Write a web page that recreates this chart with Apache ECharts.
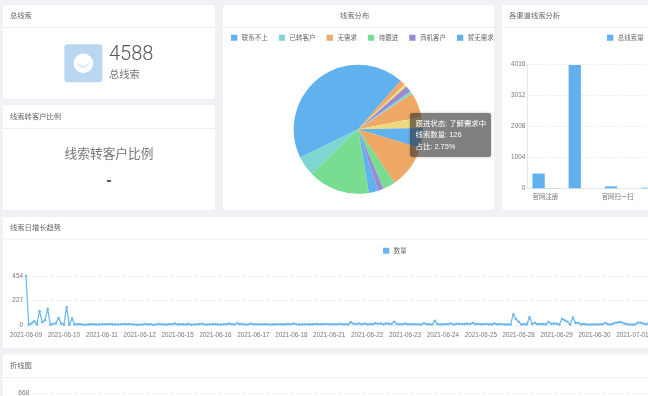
<!DOCTYPE html>
<html>
<head>
<meta charset="utf-8">
<style>
html,body{margin:0;padding:0;background:#f0f0f5;overflow:hidden}
#c{width:648px;height:396px;filter:blur(0.35px)}
</style>
<script src="https://cdn.jsdelivr.net/npm/echarts@6/dist/echarts.min.js"></script>
</head>
<body>
<div id="c"></div>
<script>
var FONT = '"Liberation Sans","Noto Sans CJK SC",sans-serif';

var pieNames = ['联系不上','其他一','其他二','其他三','其他四','其他五','了解需求中','其他六','无需求','其他七','商机客户','暂无需求','待跟进','已转客户'];
var pieValues = [2002,61,30,71,32,287,126,229,497,143,64,108,711,227];
var pieColors = ['#60b1ee','#f0a866','#eed97e','#9a88d3','#7dd6d0','#f0a866','#eed97e','#60b1ee','#f0a866','#78dc91','#9a88d3','#60b1ee','#78dc91','#7dd6d0'];
var pieLegend = ['联系不上','已转客户','无需求','待跟进','商机客户','暂无需求'];

var barCategories = ['官网注册','线下导入','官网扫一扫','其他渠道'];
var barTotal = [475,3990,60,20];
var barConverted = [10,0,0,0];
var barTicks = {max:4016, interval:1004};

var days = ['2021-06-09','2021-06-10','2021-06-11','2021-06-12','2021-06-15','2021-06-16','2021-06-17','2021-06-18','2021-06-21','2021-06-22','2021-06-23','2021-06-24','2021-06-25','2021-06-28','2021-06-29','2021-06-30','2021-07-01','2021-07-02'];
var hours = ['08','09','10','11','12','13','14','15','16','17','18','19','20','21'];
var dailyCounts = [
 454,2,15,35,5,130,25,45,150,3,12,14,65,15,
 3,165,2,60,5,8,9,3,2,5,8,6,4,5,
 7,8,8,9,6,5,5,6,9,8,9,7,4,3,
 3,5,9,5,8,2,4,10,6,5,4,8,7,14,
 5,7,6,5,10,3,5,8,7,12,5,4,7,6,
 9,5,4,8,6,13,7,5,16,6,9,5,4,12,
 8,6,5,7,8,8,4,5,6,7,6,5,8,9,
 7,14,6,4,5,6,7,5,8,9,8,7,10,9,
 6,8,7,6,9,7,6,5,25,11,9,14,6,15,
 8,10,7,17,12,13,8,15,11,9,30,9,7,6,
 14,8,6,8,7,6,5,16,6,8,4,40,9,5,
 7,8,9,14,5,11,12,9,10,13,9,18,9,10,
 8,9,9,8,5,13,8,9,7,4,5,5,100,55,
 30,5,8,5,72,10,20,8,10,10,5,28,12,14,
 12,5,55,45,30,5,70,18,22,5,10,5,4,5,
 5,5,6,8,18,8,5,15,20,26,26,15,8,4,
 4,5,22,22,14,8,16,12,14,9,10,8,6,7
];
var dailyTicks = {max:454, interval:227};
var bottomTicks = {max:668, interval:167};

var cards = [[3,5,212,94,27.5],[3,105,212,105,128.5],[223,5,271,205,27.5],[502,5,160,205,27.5],[3,217,660,131,239],[3,354.5,660,60,377.5]];
var headers = [['总线索',10,12],['线索转客户比例',10,113],['线索分布',355,12,'center'],['各渠道线索分析',509,12],['线索日增长趋势',10,224],['折线图',10,362]];

var graphics = [];
cards.forEach(function(c){
  graphics.push({type:'rect',z:-10,silent:true,shape:{x:c[0],y:c[1],width:c[2],height:c[3],r:2},style:{fill:'#fff'}});
  graphics.push({type:'line',z:-9,silent:true,shape:{x1:c[0],y1:c[4],x2:c[0]+c[2],y2:c[4]},style:{stroke:'#eeeeee',lineWidth:1}});
});
function txt(t,x,y,size,color,extra){
  var s = {text:t,x:x,y:y,fontSize:size,fill:color,fontFamily:FONT,align:'center',verticalAlign:'middle'};
  for (var k in (extra||{})) s[k]=extra[k];
  return {type:'text',z:5,silent:true,style:s};
}
graphics.push({type:'rect',z:-8,silent:true,shape:{x:64.3,y:44.3,width:38,height:38,r:3},style:{fill:'#b9d7f0'}});
graphics.push({type:'circle',z:-7,silent:true,shape:{cx:83.4,cy:63.4,r:9.8},style:{fill:'#fff'}});
graphics.push({type:'arc',z:-6,silent:true,shape:{cx:83.4,cy:61.5,r:5.5,startAngle:0.35,endAngle:Math.PI-0.35},style:{stroke:'#a9d2f2',fill:'none',lineWidth:0.8}});
graphics.push(txt('4588',109,54.5,20,'#555',{align:'left',fontFamily:'Roboto,'+FONT,fontWeight:300}));
graphics.push(txt('总线索',109,75.5,10.3,'#777',{align:'left'}));
graphics.push(txt('线索转客户比例',109,154,12.7,'#777'));
graphics.push(txt('-',109,181,16,'#555',{fontWeight:'bold'}));

function leg(data,left,top){
  return {data:data,left:left,top:top,width:400,orient:'horizontal',itemWidth:6.3,itemHeight:6,itemGap:11,
    itemStyle:{borderWidth:0},icon:'rect',selectedMode:false,padding:0,
    textStyle:{fontSize:6.5,color:'#666',fontFamily:FONT,padding:[0,0,0,-0.5]}};
}

var option = {
  animation:false,
  backgroundColor:'#f0f0f5',
  textStyle:{fontFamily:FONT},
  graphic:{elements:graphics},
  title:headers.map(function(h){
    return {text:h[0],left:h[3]==='center'?h[1]-15:h[1],top:h[2],padding:0,textStyle:{fontSize:7.3,fontWeight:'normal',color:'#666',fontFamily:FONT}};
  }),
  tooltip:{trigger:'item',triggerOn:'none',alwaysShowContent:true,transitionDuration:0,
    backgroundColor:'rgba(50,50,50,0.62)',borderWidth:0,padding:[5,5,5,5.5],
    position:[410.3,113.3],
    textStyle:{color:'#fff',fontSize:7.4,fontFamily:FONT},
    extraCssText:'box-shadow:0 0 3px rgba(0,0,0,.25);border-radius:2px;line-height:11.4px;white-space:nowrap;',
    formatter:function(p){
      return '跟进状态: '+p.name+'<br/>线索数量: '+p.value+'<br/>占比: '+p.percent.toFixed(2)+'%';
    }
  },
  legend:[leg(pieLegend,231,34.5),leg(['总线索量','已转客户量'],607,34.5),leg(['数量'],383,247.5)],
  grid:[
    {left:527.3,top:64.3,width:144.6,height:124,outerBoundsMode:'none'},
    {left:26,top:276,width:641.6,height:49,outerBoundsMode:'none'},
    {left:32,top:393.3,width:632,height:100,outerBoundsMode:'none'}
  ],
  xAxis:[
    {type:'category',gridIndex:0,data:barCategories,axisTick:{show:false},axisLine:{lineStyle:{color:'#e8e8e8'}},
      axisLabel:{interval:1,fontSize:6.4,color:'#777',margin:6,hideOverlap:false}},
    {type:'category',gridIndex:1,boundaryGap:false,
      data:days.reduce(function(a,d){return a.concat(hours.map(function(h){return d+' '+h+':00';}));},[]).slice(0,dailyCounts.length),
      axisTick:{show:false},axisLine:{lineStyle:{color:'#f0f0f0'}},
      axisLabel:{interval:13,fontSize:6.3,color:'#777',margin:7.5,hideOverlap:false,showMinLabel:true,formatter:function(v){return v.slice(0,10);}}},
    {type:'category',gridIndex:2,data:[],show:false}
  ],
  yAxis:[
    {type:'value',gridIndex:0,min:0,max:barTicks.max,interval:barTicks.interval,axisTick:{show:false},axisLine:{show:true,lineStyle:{color:'#e8e8e8'}},
      axisLabel:{fontSize:6.4,color:'#777',margin:2,formatter:function(v){return String(v);}},splitLine:{lineStyle:{type:'dashed',color:'#efefef'}}},
    {type:'value',gridIndex:1,min:0,max:dailyTicks.max,interval:dailyTicks.interval,axisTick:{show:false},axisLine:{show:false},
      axisLabel:{fontSize:6.4,color:'#777',margin:3},splitLine:{lineStyle:{type:'dashed',color:'#efefef'}}},
    {type:'value',gridIndex:2,min:0,max:bottomTicks.max,interval:bottomTicks.interval,axisTick:{show:false},axisLine:{show:false},
      axisLabel:{fontSize:6.4,color:'#777',margin:3},splitLine:{lineStyle:{type:'dashed',color:'#efefef'}}}
  ],
  series:[
    {type:'pie',name:'线索分布',center:[358.2,129.3],radius:[0,64.5],startAngle:205.9,label:{show:false},labelLine:{show:false},
      itemStyle:{borderWidth:0},emphasis:{disabled:true},
      data:pieNames.map(function(n,i){return {name:n,value:pieValues[i],itemStyle:{color:pieColors[i]}};})},
    {type:'bar',name:'总线索量',xAxisIndex:0,yAxisIndex:0,barWidth:12.3,barGap:'10%',data:barTotal,itemStyle:{color:'#60b1ee'}},
    {type:'bar',name:'已转客户量',xAxisIndex:0,yAxisIndex:0,barWidth:12.3,barGap:'10%',data:barConverted,itemStyle:{color:'#78dc91'}},
    {type:'line',name:'数量',xAxisIndex:1,yAxisIndex:1,data:dailyCounts,symbol:'circle',symbolSize:2.5,showSymbol:true,showAllSymbol:true,
      lineStyle:{width:1.2,color:'#68b6f0'},itemStyle:{color:'#68b6f0'}}
  ]
};
var chart = echarts.init(document.getElementById('c'),null,{renderer:'canvas'});
chart.setOption(option);
chart.dispatchAction({type:'showTip',seriesIndex:0,dataIndex:6});
</script>
</body>
</html>
